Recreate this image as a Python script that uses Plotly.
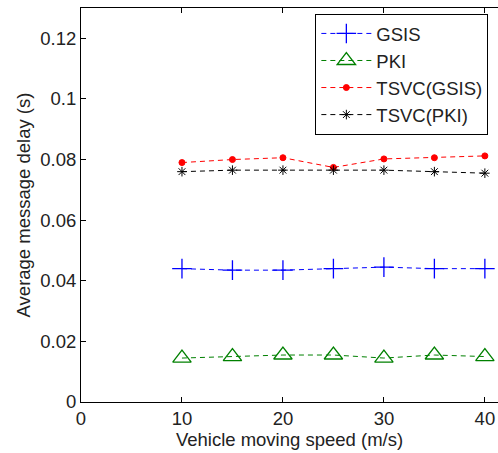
import plotly.graph_objects as go

speed = [10, 15, 20, 25, 30, 35, 40]
gsis = [0.0440, 0.0435, 0.0435, 0.0440, 0.0445, 0.0440, 0.0440]
pki = [0.0145, 0.0150, 0.0155, 0.0155, 0.0145, 0.0155, 0.0150]
tsvc_gsis = [0.0790, 0.0800, 0.0806, 0.0774, 0.0802, 0.0806, 0.0812]
tsvc_pki = [0.0760, 0.0765, 0.0765, 0.0765, 0.0765, 0.0760, 0.0755]

x_ticks = [0, 10, 20, 30, 40]
y_ticks = [0, 0.02, 0.04, 0.06, 0.08, 0.1, 0.12]
y_labels = ["0", "0.02", "0.04", "0.06", "0.08", "0.1", "0.12"]

series = [
    ("GSIS", gsis, "#0000ff", "cross-thin", 14, 1.3),
    ("PKI", pki, "#008000", "triangle-up-open", 16, 1.3),
    ("TSVC(GSIS)", tsvc_gsis, "#ff0000", "circle", 6, 1),
    ("TSVC(PKI)", tsvc_pki, "#000000", "asterisk-open", 8, 1),
]

FS = 18.5

fig = go.Figure()
for i, (name, vals, col, sym, size, lw) in enumerate(series):
    fig.add_trace(go.Scatter(
        x=speed, y=vals, name=name, mode="lines+markers",
        line=dict(color=col, width=1, dash="5px,4px"),
        marker=dict(symbol=sym, size=size, color=col,
                    line=dict(color=col, width=lw)),
    ))

axis_common = dict(
    showline=True, linecolor="black", linewidth=1,
    ticks="inside", ticklen=5, tickcolor="black", showgrid=False,
    zeroline=False, tickfont=dict(size=FS, color="#222"),
)

fig.update_layout(
    width=498, height=453,
    margin=dict(l=81, r=0, t=8, b=51),
    paper_bgcolor="white", plot_bgcolor="white",
    font=dict(family="Liberation Sans, Arial, sans-serif", size=FS, color="#222"),
    xaxis=dict(range=[0, 41.3], tickvals=x_ticks, mirror="ticks",
               title=dict(text="Vehicle moving speed (m/s)", standoff=0,
                          font=dict(size=FS)),
               **axis_common),
    yaxis=dict(range=[0, 0.13], tickvals=y_ticks, ticktext=y_labels,
               mirror=False,
               title=dict(text="Average message delay (s)", standoff=4,
                          font=dict(size=FS)),
               **axis_common),
    legend=dict(x=0.562, y=0.985, xanchor="left", yanchor="top",
                itemwidth=50,
                bgcolor="white", bordercolor="black", borderwidth=1,
                font=dict(size=FS, color="#222")),
    showlegend=True,
)

fig.write_html("out.html")
